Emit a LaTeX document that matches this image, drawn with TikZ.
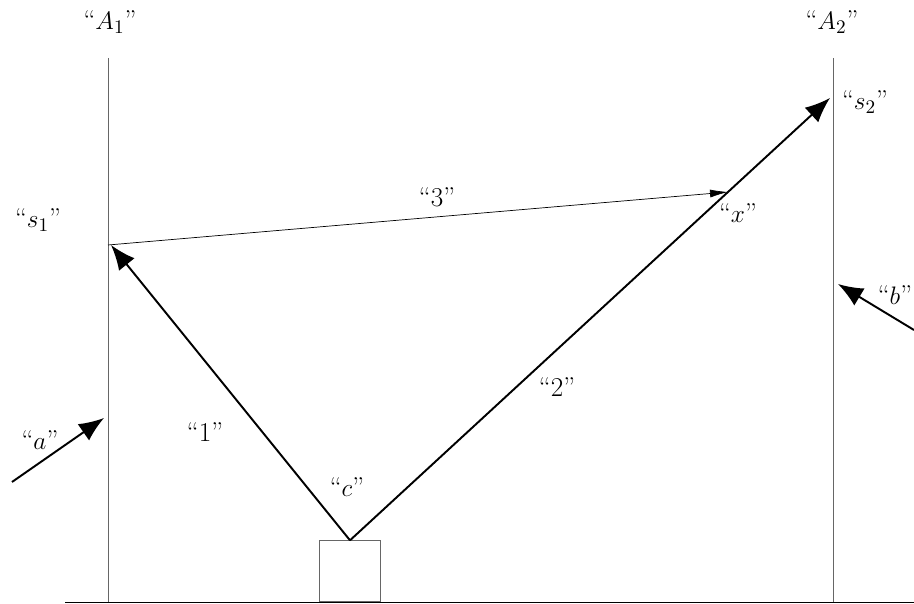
\documentclass[tikz,border=0pt]{standalone}
\usepackage{amsmath}
\usepackage{tikz}
\usetikzlibrary{arrows.meta,positioning}

\begin{document}
\begin{tikzpicture}[
  x=0.02cm, y=-0.02cm,
  font=\fontsize{15.5}{18}\selectfont,
  wall/.style={draw=black!60, thin},
  ray/.style={-{Latex[length=0.5cm, width=0.4cm]}, line width=1.1pt},
  thinray/.style={-{Latex[length=0.36cm, width=0.16cm]}, thin},
  lbl/.style={inner sep=1pt}
]
\useasboundingbox (0,0) rectangle (914,604);
% ground, walls and box
\coordinate (g1) at (65,602);
\coordinate (g2) at (914,602);
\coordinate (w1top) at (108,58);
\coordinate (w1bot) at (108,602);
\coordinate (w2top) at (833,58);
\coordinate (w2bot) at (833,602);
\node[wall, minimum size=1.22cm, inner sep=0pt, anchor=south] (box) at (350,602) {};
% ray end points
\coordinate (s1) at (108,245);
\coordinate (tip1) at (111,245);
\coordinate (s2) at (830,98);
\coordinate (x) at (728,192);
\coordinate (a0) at (12,482);
\coordinate (a1) at (104,418);
\coordinate (b0) at (914,330);
\coordinate (b1) at (838,284);
% labels
\node[lbl] (lA1) at (110,22) {``$A_1$''};
\node[lbl] (lA2) at (832,22) {``$A_2$''};
\node[lbl] (ls1) at (38,220) {``$s_1$''};
\node[lbl] (ls2) at (865,102) {``$s_2$''};
\node[lbl] (l3) at (437,197) {``3''};
\node[lbl] (lx) at (738,213) {``$x$''};
\node[lbl] (lb) at (895,295) {``$b$''};
\node[lbl] (la) at (40,440) {``$a$''};
\node[lbl] (l1) at (205,432) {``1''};
\node[lbl] (l2) at (557,387) {``2''};
\node[lbl] (lc) at (347,487) {``$c$''};
\draw (g1) -- (g2);
\draw[wall] (w1top) -- (w1bot);
\draw[wall] (w2top) -- (w2bot);
\draw[ray] (box.north) -- (tip1);
\draw[ray] (box.north) -- (s2);
\draw[thinray] (s1) -- (x);
\draw[ray] (a0) -- (a1);
\draw[ray] (b0) -- (b1);
\end{tikzpicture}
\end{document}
